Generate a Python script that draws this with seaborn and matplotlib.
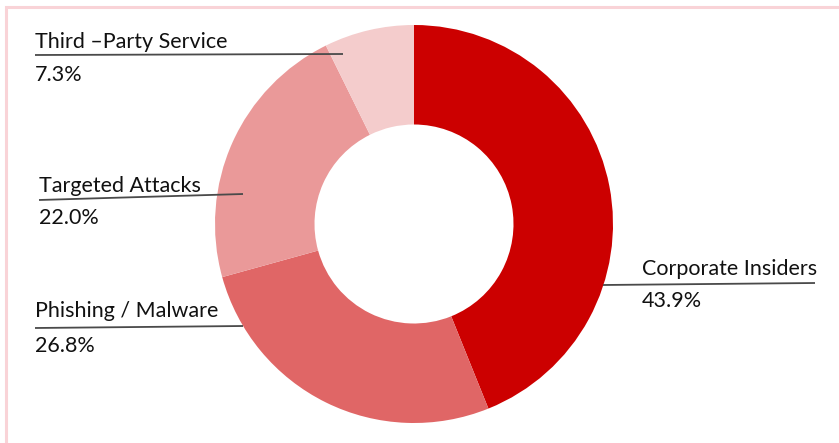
import matplotlib
matplotlib.use("Agg")
import matplotlib.pyplot as plt
from matplotlib.patches import Rectangle
import seaborn as sns

# Breach sources and their shares (%)
categories = ["Corporate Insiders", "Phishing / Malware", "Targeted Attacks", "Third \u2013Party Service"]
shares = [43.9, 26.8, 22.0, 7.3]
colors = ["#CC0000", "#E06666", "#EA9999", "#F4CCCC"]

sns.set_theme(style="white")
plt.rcParams["font.family"] = ["Lato", "DejaVu Sans"]

W, H = 839, 443
fig = plt.figure(figsize=(W / 100, H / 100), dpi=100)
ax = fig.add_axes([0, 0, 1, 1])

def py(y):
    """Convert a top-down pixel row to the axis' bottom-up coordinate."""
    return H - y

cx, cy, r = 414, py(224), 199
ax.pie(shares, colors=colors, startangle=90, counterclock=False,
       center=(cx, cy), radius=r, frame=True,
       wedgeprops=dict(width=r * 0.5, linewidth=0))
ax.set_xlim(0, W)
ax.set_ylim(0, H)
ax.set_aspect("equal")
ax.axis("off")

# Label layout: (text x, name baseline, value baseline, leader line start, leader line end)
layout = {
    "Third \u2013Party Service": (35, 48, 81, (35, 55), (343, 54)),
    "Targeted Attacks": (39, 192, 224, (39, 200), (243, 194)),
    "Phishing / Malware": (35, 317, 352, (35, 328), (243, 326)),
    "Corporate Insiders": (642, 275, 307, (603, 285), (815, 283)),
}

for name, val in zip(categories, shares):
    tx, nb, vb, (x0, y0), (x1, y1) = layout[name]
    ax.text(tx, py(nb), name, fontsize=15.5, color="#111111", va="baseline", ha="left")
    ax.text(tx, py(vb), f"{val:.1f}%", fontsize=15.5, color="#111111", va="baseline", ha="left")
    ax.plot([x0, x1], [py(y0), py(y1)], color="#4a4a4a", lw=1.3, zorder=5,
            solid_capstyle="butt")

# Light pink frame around the chart
ax.add_patch(Rectangle((6, -50), W + 50, py(7) + 50, fill=False,
                       edgecolor="#F9D3D7", lw=2.2, clip_on=False, zorder=6))

fig.savefig("out.png", dpi=100, facecolor="white")
